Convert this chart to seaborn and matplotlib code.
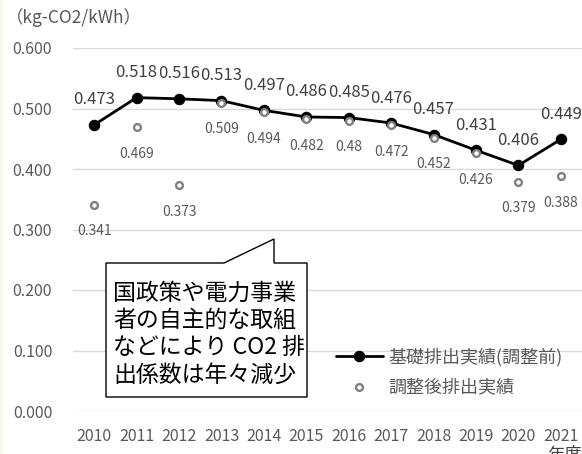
import matplotlib
matplotlib.use("Agg")
import matplotlib.pyplot as plt
import matplotlib.patches as mpatches
import pandas as pd
import seaborn as sns

years = list(range(2010, 2022))
base_values = [0.473, 0.518, 0.516, 0.513, 0.497, 0.486, 0.485, 0.476, 0.457, 0.431, 0.406, 0.449]
adjusted_values = [0.341, 0.469, 0.373, 0.509, 0.494, 0.482, 0.48, 0.472, 0.452, 0.426, 0.379, 0.388]
y_ticks = [0.0, 0.1, 0.2, 0.3, 0.4, 0.5, 0.6]
base_label = "基礎排出実績(調整前)"
adjusted_label = "調整後排出実績"
unit_label = "（kg-CO2/kWh）"
x_label = "年度"
callout_lines = ["国政策や電力事業", "者の自主的な取組", "などにより CO2 排", "出係数は年々減少"]

sns.set_theme(style="white")
plt.rcParams["font.family"] = ["Noto Sans CJK JP", "DejaVu Sans"]

TEXT = "#595959"
GRID = "#d9d9d9"
W, H = 582, 454

data = pd.DataFrame({"year": years, "base": base_values, "adjusted": adjusted_values})

fig = plt.figure(figsize=(5.82, 4.54), dpi=100)
ax = fig.add_axes([73 / W, 1 - 411 / H, 1 - 73 / W, (411 - 48) / H])

sns.lineplot(data=data, x="year", y="base", ax=ax, color="black", linewidth=2,
             marker="o", markersize=7.5, markeredgecolor="black",
             label=base_label, zorder=3, clip_on=False)
sns.scatterplot(data=data, x="year", y="adjusted", ax=ax, color="white",
                edgecolor="#808080", linewidth=1.7, s=24,
                label=adjusted_label, zorder=4, clip_on=False)

for yr, v in zip(years, base_values):
    ax.annotate(f"{v:g}", (yr, v), xytext=(0, 18), textcoords="offset points",
                ha="center", va="center", fontsize=12, color="#404040")
for yr, v in zip(years, adjusted_values):
    ax.annotate(f"{v:g}", (yr, v), xytext=(0, -19), textcoords="offset points",
                ha="center", va="center", fontsize=10, color=TEXT)

ax.set_xlim(2009.5, 2021.5)
ax.set_ylim(0, 0.6)
ax.set_xticks(years)
ax.set_yticks(y_ticks)
ax.set_yticklabels([f"{t:.3f}" for t in y_ticks])
ax.tick_params(axis="both", length=0, labelsize=11.5, labelcolor=TEXT)
ax.tick_params(axis="y", pad=15)
ax.tick_params(axis="x", pad=12)
ax.set_xlabel("")
ax.set_ylabel("")
ax.grid(axis="y", color=GRID, linewidth=1)
ax.set_axisbelow(True)
sns.despine(ax=ax, left=True, bottom=True)

leg = ax.legend(loc="center left", bbox_to_anchor=(336 / W, 1 - 372 / H),
                bbox_transform=fig.transFigure, frameon=False, fontsize=13,
                handlelength=2.6, handletextpad=0.3, labelspacing=0.65,
                borderpad=0, borderaxespad=0)
for t in leg.get_texts():
    t.set_color(TEXT)

fig.text(6 / W, 1 - 18 / H, unit_label, ha="left", va="center", fontsize=12.5, color=TEXT)
fig.text(1.0, 1 - 446 / H, x_label, ha="right", va="top", fontsize=12.5, color="#404040")

# thin cream strip on the left edge
fig.patches.append(mpatches.Rectangle((0, 0), 2.5 / W, 1, transform=fig.transFigure,
                                      facecolor="#fbf6ea", edgecolor="none"))

# speech-bubble callout
pts = [(106, 397), (106, 263), (224, 263), (274, 239), (274, 263), (307, 263), (307, 397)]
bubble = mpatches.Polygon([(x / W, 1 - y / H) for x, y in pts], closed=True,
                          transform=fig.transFigure, facecolor="white",
                          edgecolor="black", linewidth=1, zorder=5)
fig.patches.append(bubble)
fig.text(113 / W, 1 - 334 / H, "\n".join(callout_lines), ha="left", va="center",
         fontsize=16.5, color="black", linespacing=1.25, zorder=6)

fig.savefig("out.png", dpi=100)
